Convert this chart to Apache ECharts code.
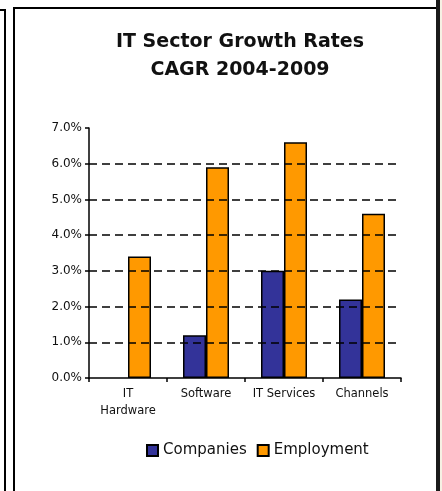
<!DOCTYPE html>
<html>
<head>
<meta charset="utf-8">
<script src="https://cdn.jsdelivr.net/npm/echarts@6/dist/echarts.min.js"></script>
<style>
  html, body { margin: 0; padding: 0; background: #ffffff; }
  #chart { width: 442px; height: 491px; }
</style>
</head>
<body>
<div id="chart"></div>
<script>
// Sector categories on the x axis
const categories = ['IT\nHardware', 'Software', 'IT Services', 'Channels'];
// Compound annual growth rates 2004-2009, in percent
const companies = [0, 1.2, 3.0, 2.2];
const employment = [3.4, 5.9, 6.6, 4.6];
// Dashed reference levels drawn across the plot
const gridLevels = [1, 2, 3, 4, 5, 6];

// zero-valued bars get no outline so nothing shows on the baseline
const asBars = values => values.map(v => (v === 0 ? { value: v, itemStyle: { borderWidth: 0 } } : v));

const chart = echarts.init(document.getElementById('chart'), null, { renderer: 'canvas' });

const option = {
  backgroundColor: '#ffffff',
  animation: false,
  title: {
    text: 'IT Sector Growth Rates\nCAGR 2004-2009',
    left: 235,
    top: 23,
    textAlign: 'center',
    textStyle: {
      fontFamily: 'DejaVu Sans',
      fontWeight: 'bold',
      fontSize: 19,
      lineHeight: 28,
      color: '#111111'
    }
  },
  legend: {
    left: 141,
    top: 438,
    itemWidth: 11,
    itemHeight: 11,
    itemGap: 10,
    icon: 'rect',
    textStyle: { fontFamily: 'DejaVu Sans', fontSize: 15, color: '#111111' },
    data: ['Companies', 'Employment']
  },
  grid: { left: 89, right: 41, top: 128, bottom: 113, containLabel: false },
  xAxis: {
    type: 'category',
    data: categories,
    axisLine: { lineStyle: { color: '#000000', width: 1.5 } },
    axisTick: { show: true, interval: 0, length: 4, lineStyle: { color: '#000000', width: 1.5 } },
    axisLabel: {
      interval: 0,
      fontFamily: 'DejaVu Sans',
      fontSize: 11.5,
      color: '#111111',
      lineHeight: 17,
      margin: 8
    }
  },
  yAxis: {
    type: 'value',
    min: 0,
    max: 7,
    interval: 1,
    axisLine: { show: true, lineStyle: { color: '#000000', width: 1.5 } },
    axisTick: { show: true, length: 4, lineStyle: { color: '#000000', width: 1.5 } },
    splitLine: { show: false },
    axisLabel: {
      fontFamily: 'DejaVu Sans',
      fontSize: 12,
      color: '#111111',
      margin: 7,
      formatter: v => v.toFixed(1) + '%'
    }
  },
  series: [
    {
      name: 'Companies',
      type: 'bar',
      data: asBars(companies),
      barWidth: 23,
      barGap: '0%',
      itemStyle: { color: '#333399', borderColor: '#000000', borderWidth: 1.5 },
      markLine: {
        silent: true,
        symbol: 'none',
        label: { show: false },
        lineStyle: { color: '#000000', type: [8, 5], width: 1.5 },
        data: gridLevels.map(v => ({ yAxis: v }))
      },
      z: 3
    },
    {
      name: 'Employment',
      type: 'bar',
      data: asBars(employment),
      barWidth: 23,
      barGap: '0%',
      itemStyle: { color: '#FF9900', borderColor: '#000000', borderWidth: 1.5 },
      z: 3
    }
  ],
  graphic: [
    // surrounding frame lines
    { type: 'polyline', shape: { points: [[0, 10], [5, 10], [5, 491]] }, style: { stroke: '#000', lineWidth: 2, fill: null } },
    { type: 'polyline', shape: { points: [[14, 491], [14, 8], [437, 8]] }, style: { stroke: '#000', lineWidth: 2, fill: null } },
    { type: 'rect', shape: { x: 440, y: 0, width: 2, height: 491 }, style: { fill: '#f6f1e4' } },
    { type: 'rect', shape: { x: 436, y: 0, width: 4, height: 491 }, style: { fill: '#1a1a1a' } }
  ]
};

chart.setOption(option);
</script>
</body>
</html>
